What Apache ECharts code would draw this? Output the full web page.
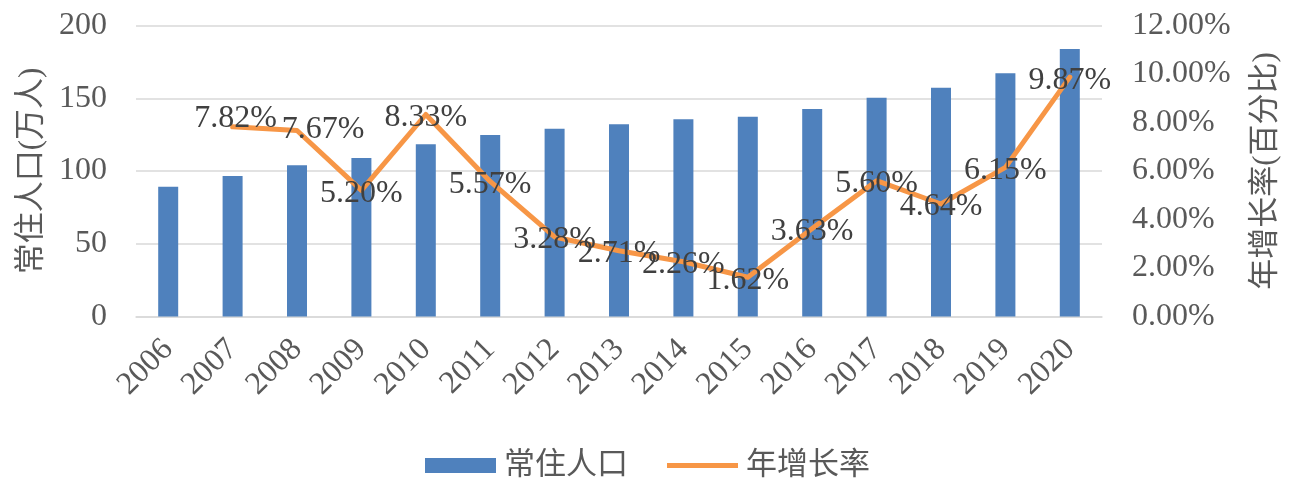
<!DOCTYPE html>
<html>
<head>
<meta charset="utf-8">
<script src="https://cdn.jsdelivr.net/npm/echarts@6/dist/echarts.min.js"></script>
<style>html,body{margin:0;padding:0;background:#fff;}#c{width:1299px;height:495px;}</style>
</head>
<body>
<div id="c"></div>
<script>
var years = ['2006','2007','2008','2009','2010','2011','2012','2013','2014','2015','2016','2017','2018','2019','2020'];
var population = [89.2, 96.6, 103.9, 108.9, 118.3, 124.7, 129.1, 132.1, 135.5, 137.3, 142.6, 150.4, 157.3, 167.1, 183.8];
var growthRate = [null, 7.82, 7.67, 5.20, 8.33, 5.57, 3.28, 2.71, 2.26, 1.62, 3.63, 5.60, 4.64, 6.15, 9.87];
var leftTicks = [0, 50, 100, 150, 200];
var rightTicks = [0, 2, 4, 6, 8, 10, 12];

var FONT = '"Liberation Serif", "Times New Roman", "Noto Sans CJK SC", serif';
var labelOffsets = {1: [3, -8], 2: [26, -1]};
var lineData = growthRate.map(function (v, i) {
  var item = {value: v};
  if (labelOffsets[i]) item.label = {offset: labelOffsets[i]};
  return item;
});

var chart = echarts.init(document.getElementById('c'), null, {renderer: 'canvas'});
chart.setOption({
  animation: false,
  backgroundColor: '#ffffff',
  textStyle: {fontFamily: FONT},
  grid: {left: 136, right: 197, top: 25.5, bottom: 178.5, containLabel: false},
  legend: {
    bottom: 9,
    left: 420,
    itemGap: 39,
    itemWidth: 71,
    itemHeight: 15,
    textStyle: {fontFamily: FONT, fontSize: 31, color: '#595959', padding: [0, 0, 0, 3]},
    data: [
      {name: '常住人口', icon: 'rect'},
      {name: '年增长率', icon: 'path://M0,0 M0,5 L71,5 L71,10 L0,10 Z M71,15'}
    ]
  },
  xAxis: {
    type: 'category',
    data: years,
    axisLine: {show: true, lineStyle: {color: '#d9d9d9', width: 1.5}},
    axisTick: {show: false},
    axisLabel: {rotate: 45, fontSize: 32, color: '#595959', fontFamily: FONT, margin: 28, interval: 0}
  },
  yAxis: [
    {
      type: 'value', min: leftTicks[0], max: leftTicks[leftTicks.length - 1], interval: 50,
      name: '常住人口(万人)', nameLocation: 'middle', nameGap: 89, nameRotate: 90,
      nameTextStyle: {fontSize: 31, color: '#595959', fontFamily: FONT},
      axisLine: {show: false}, axisTick: {show: false},
      axisLabel: {fontSize: 32, color: '#595959', fontFamily: FONT, margin: 29},
      splitLine: {lineStyle: {color: '#d9d9d9', width: 1.5}}
    },
    {
      type: 'value', min: rightTicks[0], max: rightTicks[rightTicks.length - 1], interval: 2,
      name: '年增长率(百分比)', nameLocation: 'middle', nameGap: 148, nameRotate: 90,
      nameTextStyle: {fontSize: 31, color: '#595959', fontFamily: FONT},
      axisLine: {show: false}, axisTick: {show: false},
      axisLabel: {fontSize: 32, color: '#595959', fontFamily: FONT, margin: 30,
        formatter: function (v) { return v.toFixed(2) + '%'; }},
      splitLine: {show: false}
    }
  ],
  series: [
    {
      name: '常住人口', type: 'bar', yAxisIndex: 0, data: population,
      barWidth: 20,
      itemStyle: {color: '#4f81bd'}
    },
    {
      name: '年增长率', type: 'line', yAxisIndex: 1, data: lineData,
      symbol: 'circle', symbolSize: 2, showSymbol: true, connectNulls: false,
      lineStyle: {color: '#f79646', width: 5, join: 'round', cap: 'round'},
      itemStyle: {color: '#f79646'},
      label: {
        show: true, position: 'inside', offset: [0, 3],
        fontSize: 32, color: '#404040', fontFamily: FONT,
        formatter: function (p) { return p.value == null ? '' : p.value.toFixed(2) + '%'; }
      },
      z: 3
    }
  ]
});
</script>
</body>
</html>
